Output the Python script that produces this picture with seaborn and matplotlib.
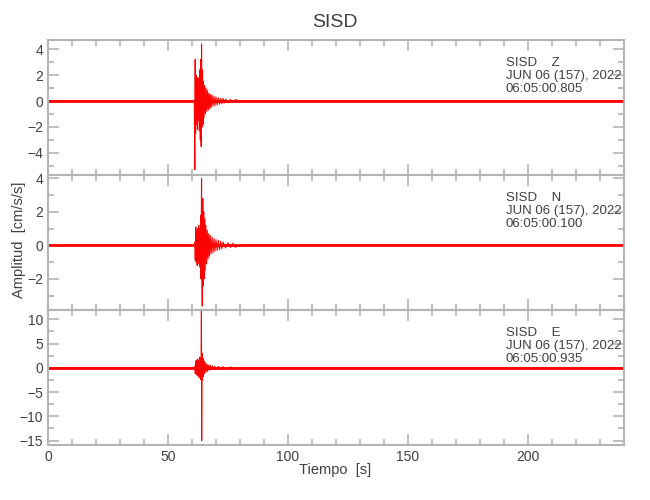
import matplotlib
matplotlib.use("Agg")
import matplotlib.pyplot as plt
import seaborn as sns
from matplotlib.ticker import MultipleLocator

# Peaks (time in s, amplitude in cm/s/s)
z_t = [0, 60.9, 61.0, 61.2, 61.35, 61.5, 61.7, 61.9, 62.1, 62.3, 62.5, 62.7, 62.9, 63.1,
       63.3, 63.5, 63.7, 63.85, 64.0, 64.2, 64.4, 64.6, 64.8, 65.0, 65.3, 65.6, 65.9,
       66.2, 66.5, 66.8, 67.1, 67.4, 67.7, 68.0, 68.4, 68.8, 69.2, 69.6, 70.0, 70.5,
       71.0, 71.5, 72.0, 72.5, 73.0, 73.5, 74.0, 75.0, 76.0, 77.0, 78.0, 80.0, 240]
z_v = [0, 0, -0.3, -5.3, 3.2, -2.5, 2.0, -1.8, 1.6, -2.2, 1.8, -1.5, 1.3, -2.3,
       2.4, -3.0, 3.2, -3.5, 4.4, -2.0, 2.4, -1.8, 1.5, -1.3, 1.2, -1.0, 1.0,
       -0.8, 0.8, -0.7, 0.6, -0.6, 0.5, -0.5, 0.45, -0.4, 0.35, -0.35, 0.3, -0.3,
       0.25, -0.25, 0.2, -0.2, 0.2, -0.15, 0.15, -0.12, 0.12, -0.1, 0.1, 0, 0]

n_t = [0, 61.1, 61.2, 61.4, 61.6, 61.8, 62.0, 62.2, 62.4, 62.6, 62.8, 63.0, 63.2, 63.4, 63.6,
       63.8, 64.0, 64.15, 64.3, 64.5, 64.7, 64.9, 65.1, 65.3, 65.5, 65.8, 66.1, 66.4,
       66.7, 67.0, 67.3, 67.6, 68.0, 68.4, 68.8, 69.2, 69.6, 70.0, 70.5, 71.0, 71.5,
       72.0, 72.5, 73.0, 74.0, 75.0, 76.0, 77.0, 78.0, 80.0, 240]
n_v = [0, 0, 0.2, -0.9, 1.1, -1.0, 0.9, -1.2, 1.0, -0.8, 1.2, -1.1, 1.0, -1.3, 1.8,
       -2.0, 4.0, -1.5, -3.6, 2.8, -2.4, 2.0, -2.0, 1.6, -1.5, 1.2, -1.1, 0.9,
       -0.8, 0.7, -0.65, 0.6, -0.5, 0.5, -0.45, 0.4, -0.35, 0.35, -0.3, 0.3, -0.25,
       0.25, -0.2, 0.2, -0.15, 0.15, -0.12, 0.12, -0.1, 0, 0]

e_t = [0, 61.1, 61.2, 61.4, 61.6, 61.8, 62.0, 62.2, 62.4, 62.6, 62.8, 63.0, 63.2, 63.4, 63.6,
       63.8, 63.95, 64.05, 64.2, 64.4, 64.6, 64.8, 65.0, 65.3, 65.6, 65.9, 66.2, 66.5,
       66.8, 67.2, 67.6, 68.0, 68.5, 69.0, 69.5, 70.0, 71.0, 72.0, 73.0, 74.0, 76.0,
       78.0, 80.0, 240]
e_v = [0, 0, 0.3, -1.2, 1.4, -1.3, 1.6, -1.5, 1.8, -1.6, 1.5, -2.0, 2.2, -1.8, 2.0,
       -2.5, 12.5, -15.0, 3.0, -2.5, 2.0, -1.8, 1.4, -1.2, 1.0, -0.9, 0.8, -0.7,
       0.6, -0.5, 0.5, -0.4, 0.4, -0.35, 0.3, -0.3, 0.25, -0.2, 0.2, -0.15, 0.15,
       -0.1, 0, 0]

# background noise band along the zero line
base_t = [0, 240]
base_v = [0, 0]

components = ["Z", "N", "E"]
start_times = ["06:05:00.805", "06:05:00.100", "06:05:00.935"]
ylims = [(-5.7, 4.7), (-3.85, 4.2), (-15.9, 11.9)]
y_major = [2, 2, 5]
y_minor = [1, 1, 2.5]

sns.set_style("ticks")
plt.rcParams["font.family"] = ["Liberation Sans", "DejaVu Sans"]

frame = "#b4b4b4"
txt = "#404040"

fig = plt.figure(figsize=(6.5, 5), dpi=100)
bottoms = [0.65, 0.38, 0.11]
traces = [(z_t, z_v), (n_t, n_v), (e_t, e_v)]

for i, (tt, vv) in enumerate(traces):
    ax = fig.add_axes([0.0738, bottoms[i], 0.886, 0.27])
    sns.lineplot(x=base_t, y=base_v, ax=ax, color="red", lw=2.0, estimator=None)
    sns.lineplot(x=tt, y=vv, ax=ax, color="red", lw=0.8, estimator=None)
    ax.set_xlim(0, 240)
    ax.set_ylim(*ylims[i])
    ax.xaxis.set_major_locator(MultipleLocator(50))
    ax.xaxis.set_minor_locator(MultipleLocator(10))
    ax.yaxis.set_major_locator(MultipleLocator(y_major[i]))
    ax.yaxis.set_minor_locator(MultipleLocator(y_minor[i]))
    ax.tick_params(which="both", direction="in", top=True, right=True,
                   color=frame, labelcolor=txt, labelsize=10)
    ax.tick_params(which="major", length=8, width=1.2)
    ax.tick_params(which="minor", length=4, width=1.2)
    for sp in ax.spines.values():
        sp.set_color(frame)
        sp.set_linewidth(1.5)
    if i < 2:
        ax.tick_params(labelbottom=False)
    ax.text(0.795, 0.875, f"SISD    {components[i]}\nJUN 06 (157), 2022\n{start_times[i]}",
            transform=ax.transAxes, ha="left", va="top", fontsize=9.5,
            color=txt, linespacing=1.1)

fig.text(0.515, 0.955, "SISD", ha="center", va="center", fontsize=14, color=txt)
fig.text(0.515, 0.06, "Tiempo  [s]", ha="center", va="center", fontsize=10.5, color=txt)
fig.text(0.03, 0.52, "Amplitud  [cm/s/s]", ha="center", va="center", rotation=90,
         fontsize=10.5, color=txt)

fig.savefig("out.png", dpi=100)
plt.close(fig)
